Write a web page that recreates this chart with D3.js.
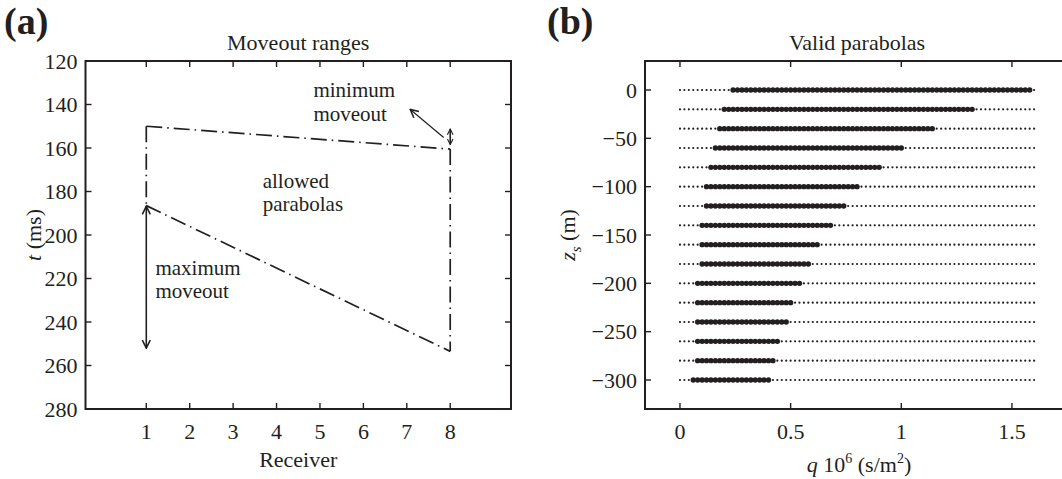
<!DOCTYPE html>
<html><head><meta charset="utf-8">
<script src="https://cdn.jsdelivr.net/npm/d3@7"></script>
<style>
body{margin:0;background:#fff;}
svg text{font-family:"Liberation Serif","Times New Roman",serif;fill:#231f20;}
</style></head>
<body><svg id="c" width="1062" height="479"></svg>
<script>
// ---------- Panel (a) data ----------
const receiverTicks = [1,2,3,4,5,6,7,8];
const tTicks = [120,140,160,180,200,220,240,260,280];
const upperEdge = [[1,150],[8,160.5]];
const lowerEdge = [[1,186.5],[8,253.5]];
const leftEdge  = [[1,150],[1,186.5]];
const rightEdge = [[8,160.5],[8,253.5]];
const maxArrow = [[1,186.8],[1,252]];
const minArrow = [[8,151.3],[8,158.4]];
const pointerArrow = [[7.85,155.2],[7.08,142.3]];
const labelsA = [
  {r:4.85, t:133.2, text:"minimum"},
  {r:4.85, t:144.0, text:"moveout"},
  {r:3.68, t:174.8, text:"allowed"},
  {r:3.68, t:185.6, text:"parabolas"},
  {r:1.21, t:215.0, text:"maximum"},
  {r:1.21, t:225.8, text:"moveout"}
];
// ---------- Panel (b) data ----------
const zsRows   = [0,-20,-40,-60,-80,-100,-120,-140,-160,-180,-200,-220,-240,-260,-280,-300];
const validMin = [0.24,0.20,0.18,0.16,0.14,0.12,0.12,0.10,0.10,0.10,0.08,0.08,0.08,0.08,0.08,0.06];
const validMax = [1.58,1.32,1.14,1.00,0.90,0.80,0.74,0.68,0.62,0.58,0.54,0.50,0.48,0.44,0.42,0.40];
const qTicks = [0,0.5,1,1.5];
const zsTicks = [0,-50,-100,-150,-200,-250,-300];
const qStep = 0.02, qMax = 1.6;

const svg = d3.select("#c");
const ink = "#231f20";
const FS = 22;

function frame(g, x, y, xt, yt, xfmt, yfmt){
  const x0 = d3.min(x.range()), x1 = d3.max(x.range());
  const y0 = d3.min(y.range()), y1 = d3.max(y.range());
  g.append("rect").attr("x",x0).attr("y",y0).attr("width",x1-x0).attr("height",y1-y0)
    .attr("fill","none").attr("stroke",ink).attr("stroke-width",2);
  const tl = 6;
  xt.forEach(v=>{
    g.append("line").attr("x1",x(v)).attr("x2",x(v)).attr("y1",y1).attr("y2",y1-tl).attr("stroke",ink).attr("stroke-width",1.4);
    g.append("line").attr("x1",x(v)).attr("x2",x(v)).attr("y1",y0).attr("y2",y0+tl).attr("stroke",ink).attr("stroke-width",1.4);
    g.append("text").attr("x",x(v)).attr("y",y1+30).attr("text-anchor","middle").attr("font-size",FS).text(xfmt(v));
  });
  yt.forEach(v=>{
    g.append("line").attr("x1",x0).attr("x2",x0+tl).attr("y1",y(v)).attr("y2",y(v)).attr("stroke",ink).attr("stroke-width",1.4);
    g.append("line").attr("x1",x1).attr("x2",x1-tl).attr("y1",y(v)).attr("y2",y(v)).attr("stroke",ink).attr("stroke-width",1.4);
    g.append("text").attr("x",x0-8).attr("y",y(v)).attr("dy","0.35em").attr("text-anchor","end").attr("font-size",FS).text(yfmt(v));
  });
}

const defs = svg.append("defs");
function marker(id, s){
  defs.append("marker").attr("id",id).attr("viewBox","0 0 10 10").attr("refX",9).attr("refY",5)
    .attr("markerWidth",s).attr("markerHeight",s).attr("markerUnits","userSpaceOnUse").attr("orient","auto-start-reverse")
    .append("path").attr("d","M1,1 L9,5 L1,9").attr("fill","none").attr("stroke",ink).attr("stroke-width",1.6);
}
marker("ah",10); marker("ahs",7);

// ---------- Panel (a) ----------
const xA = d3.scaleLinear().domain([-0.4,9.4]).range([85.5,511]);
const yA = d3.scaleLinear().domain([120,280]).range([61,409]);
const gA = svg.append("g");
frame(gA, xA, yA, receiverTicks, tTicks, d=>d, d=>d);
gA.append("text").attr("x",4).attr("y",34).attr("font-size",38).attr("font-weight","bold").text("(a)");
gA.append("text").attr("x",(85.5+511)/2).attr("y",50).attr("text-anchor","middle").attr("font-size",FS).text("Moveout ranges");
gA.append("text").attr("x",(85.5+511)/2).attr("y",467).attr("text-anchor","middle").attr("font-size",FS).text("Receiver");
const tl = gA.append("text").attr("transform",`translate(41,${(61+409)/2}) rotate(-90)`).attr("text-anchor","middle").attr("font-size",FS);
tl.append("tspan").attr("font-style","italic").text("t");
tl.append("tspan").text(" (ms)");

const lineA = d3.line().x(d=>xA(d[0])).y(d=>yA(d[1]));
[upperEdge, lowerEdge, leftEdge, rightEdge].forEach(seg=>{
  gA.append("path").attr("d",lineA(seg)).attr("fill","none").attr("stroke",ink)
    .attr("stroke-width",1.7).attr("stroke-dasharray","16,5,1.5,5");
});
gA.append("path").attr("d",lineA(maxArrow)).attr("stroke",ink).attr("stroke-width",1.6)
  .attr("marker-start","url(#ah)").attr("marker-end","url(#ah)");
gA.append("path").attr("d",lineA(minArrow)).attr("stroke",ink).attr("stroke-width",1.6)
  .attr("marker-start","url(#ahs)").attr("marker-end","url(#ahs)");
gA.append("path").attr("d",lineA(pointerArrow)).attr("stroke",ink).attr("stroke-width",1.2)
  .attr("marker-end","url(#ah)");
labelsA.forEach(l=>{
  gA.append("text").attr("x",xA(l.r)).attr("y",yA(l.t)).attr("dy","0.35em").attr("font-size",21).text(l.text);
});

// ---------- Panel (b) ----------
const xB = d3.scaleLinear().domain([-0.158,1.76]).range([645,1069.5]);
const yB = d3.scaleLinear().domain([-330,30]).range([409,61]);
const gB = svg.append("g");
frame(gB, xB, yB, qTicks, zsTicks, d=>d, d=>d<0?"\u2212"+(-d):d);
gB.append("text").attr("x",547).attr("y",34).attr("font-size",38).attr("font-weight","bold").text("(b)");
gB.append("text").attr("x",857).attr("y",50).attr("text-anchor","middle").attr("font-size",FS).text("Valid parabolas");
const xl = gB.append("text").attr("x",859).attr("y",472).attr("text-anchor","middle").attr("font-size",FS);
xl.append("tspan").attr("font-style","italic").text("q");
xl.append("tspan").text(" 10");
xl.append("tspan").attr("font-size",14).attr("dy",-9).text("6");
xl.append("tspan").attr("dy",9).text(" (s/m");
xl.append("tspan").attr("font-size",14).attr("dy",-9).text("2");
xl.append("tspan").attr("dy",9).text(")");
const zl = gB.append("text").attr("transform",`translate(575,${(61+409)/2}) rotate(-90)`).attr("text-anchor","middle").attr("font-size",FS);
zl.append("tspan").attr("font-style","italic").text("z");
zl.append("tspan").attr("font-style","italic").attr("font-size",15).attr("dy",6).text("s");
zl.append("tspan").attr("dy",-6).text(" (m)");

const qGrid = d3.range(0, qMax + qStep/2, qStep);
zsRows.forEach((z,i)=>{
  const pts = qGrid.map(q=>({q, big: q >= validMin[i]-1e-9 && q <= validMax[i]+1e-9}));
  gB.selectAll(null).data(pts.filter(p=>!p.big)).enter().append("circle")
    .attr("cx",p=>xB(p.q)).attr("cy",yB(z)).attr("r",1.1).attr("fill",ink);
  gB.selectAll(null).data(pts.filter(p=>p.big)).enter().append("circle")
    .attr("cx",p=>xB(p.q)).attr("cy",yB(z)).attr("r",2.7).attr("fill",ink);
});
</script></body></html>
